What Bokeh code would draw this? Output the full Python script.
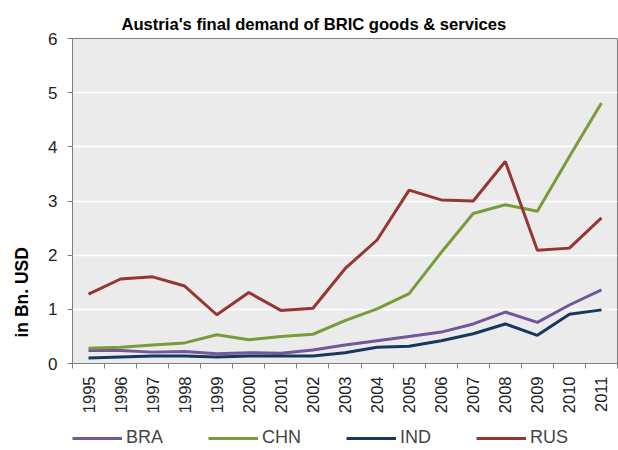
import numpy as np
from bokeh.plotting import figure
from bokeh.layouts import column
from bokeh.models import FixedTicker, Legend, LegendItem, Range1d, Title
from bokeh.embed import file_html
from bokeh.resources import INLINE

years = ["1995", "1996", "1997", "1998", "1999", "2000", "2001", "2002", "2003",
         "2004", "2005", "2006", "2007", "2008", "2009", "2010", "2011"]
bra = [0.24, 0.24, 0.21, 0.22, 0.18, 0.20, 0.19, 0.25, 0.34, 0.42, 0.50, 0.58, 0.73, 0.95, 0.76, 1.08, 1.36]
chn = [0.28, 0.30, 0.34, 0.38, 0.53, 0.44, 0.50, 0.54, 0.79, 1.01, 1.29, 2.05, 2.77, 2.93, 2.81, 3.82, 4.81]
ind = [0.10, 0.12, 0.14, 0.14, 0.12, 0.14, 0.14, 0.14, 0.20, 0.30, 0.32, 0.42, 0.55, 0.73, 0.52, 0.91, 0.99]
rus = [1.28, 1.56, 1.60, 1.43, 0.90, 1.31, 0.98, 1.02, 1.75, 2.28, 3.20, 3.02, 3.00, 3.73, 2.09, 2.13, 2.69]
series = [("BRA", bra, "#71589A"), ("CHN", chn, "#7A9B3A"), ("IND", ind, "#17375E"), ("RUS", rus, "#963634")]
y_ticks = [0, 1, 2, 3, 4, 5, 6]

FONT = "Liberation Sans"
n = len(years)
xs = np.arange(n) + 0.5

p = figure(width=618, height=416, output_backend="svg", toolbar_location=None,
           x_range=Range1d(0, n), y_range=Range1d(0, 6))
p.min_border_left = 69
p.min_border_right = 1
p.min_border_top = 38
p.min_border_bottom = 52

p.add_layout(Title(text="Austria's final demand of BRIC goods & services",
                   text_font=FONT, text_font_size="16.6px", text_font_style="bold",
                   text_color="black", align="left", offset=49), "above")

p.background_fill_color = "#EBEBEB"
p.border_fill_color = "white"
p.outline_line_color = "#7F7F7F"
p.outline_line_width = 1

p.xgrid.grid_line_color = None
p.ygrid.grid_line_color = "white"
p.ygrid.grid_line_width = 1.5

xax = p.xaxis[0]
xax.ticker = FixedTicker(ticks=list(xs), minor_ticks=list(range(n + 1)))
xax.major_label_overrides = {float(x): y for x, y in zip(xs, years)}
xax.major_label_orientation = np.pi / 2
xax.major_tick_out = 0
xax.major_tick_in = 0
xax.minor_tick_out = 5
xax.minor_tick_in = 0
xax.major_label_standoff = 8
xax.major_label_text_font = FONT
xax.major_label_text_font_size = "16.5px"
xax.major_label_text_color = "#222222"
xax.axis_line_color = "#7F7F7F"
xax.minor_tick_line_color = "#7F7F7F"

yax = p.yaxis[0]
yax.ticker = FixedTicker(ticks=y_ticks, minor_ticks=[])
yax.major_tick_out = 5
yax.major_tick_in = 0
yax.major_label_standoff = 10
yax.major_label_text_font = FONT
yax.major_label_text_font_size = "17px"
yax.major_label_text_color = "#222222"
yax.axis_line_color = "#7F7F7F"
yax.major_tick_line_color = "#7F7F7F"

p.add_layout(Title(text="in Bn. USD", text_font=FONT, text_font_size="17.5px",
                   text_font_style="bold", text_color="black",
                   align="left", offset=26, standoff=23, vertical_align="top"), "left")

for name, vals, color in series:
    p.line(xs, vals, line_color=color, line_width=3)

# legend strip below the chart
lg = figure(width=618, height=34, output_backend="svg", toolbar_location=None,
            x_range=Range1d(0, n), y_range=Range1d(0, 6),
            x_axis_type=None, y_axis_type=None)
lg.min_border_left = 0
lg.min_border_right = 0
lg.min_border_top = 0
lg.min_border_bottom = 0
lg.outline_line_color = None
lg.xgrid.grid_line_color = None
lg.ygrid.grid_line_color = None
lg.background_fill_color = "white"
items = []
for name, vals, color in series:
    r = lg.line(xs, vals, line_color=color, line_width=3, visible=False)
    items.append(LegendItem(label=name, renderers=[r]))
legend = Legend(items=items, orientation="horizontal", location=(0, 2),
                glyph_width=50, glyph_height=18, label_text_font=FONT,
                label_text_font_size="18px", label_standoff=4, spacing=45,
                border_line_color=None, background_fill_alpha=0, margin=0, padding=0)
lg.add_layout(legend, "center")

layout = column(p, lg, spacing=0)
open("out.html", "w").write(file_html(layout, INLINE))
